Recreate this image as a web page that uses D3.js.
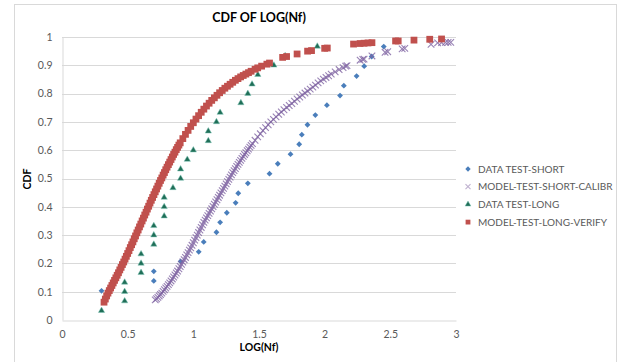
<!DOCTYPE html>
<html>
<head>
<meta charset="utf-8">
<script src="https://cdn.jsdelivr.net/npm/d3@7"></script>
<style>
  body { margin: 0; background: #fff; }
  svg { display: block; font-family: Lato, "Open Sans", sans-serif; }
</style>
</head>
<body>
<div id="chart"></div>
<script>
// tick labels
const xTicks = [0, 0.5, 1, 1.5, 2, 2.5, 3];
const yTicks = [0, 0.1, 0.2, 0.3, 0.4, 0.5, 0.6, 0.7, 0.8, 0.9, 1];

const seriesNames = ['DATA TEST-SHORT', 'MODEL-TEST-SHORT-CALIBR', 'DATA TEST-LONG', 'MODEL-TEST-LONG-VERIFY'];

// DATA TEST-SHORT
const shortX = [0.301, 0.699, 0.699, 0.903, 1.041, 1.079, 1.176, 1.204, 1.255, 1.322, 1.342, 1.415, 1.580,
  1.643, 1.740, 1.806, 1.826, 1.869, 1.929, 2.017, 2.117, 2.146, 2.243, 2.301, 2.358, 2.450];
const shortY = [0.103, 0.138, 0.172, 0.207, 0.241, 0.276, 0.310, 0.345, 0.379, 0.414, 0.448, 0.483, 0.517,
  0.552, 0.586, 0.621, 0.655, 0.690, 0.724, 0.759, 0.793, 0.828, 0.862, 0.897, 0.931, 0.966];

// MODEL-TEST-SHORT-CALIBR
const calibX = [0.71, 0.72, 0.73, 0.74, 0.75, 0.76, 0.77, 0.78, 0.79, 0.80, 0.81, 0.82, 0.83, 0.84, 0.85,
  0.86, 0.87, 0.88, 0.89, 0.90, 0.91, 0.92, 0.93, 0.94, 0.95, 0.96, 0.97, 0.98, 0.99, 1.00, 1.01, 1.02,
  1.03, 1.04, 1.05, 1.06, 1.07, 1.08, 1.09, 1.10, 1.11, 1.12, 1.13, 1.14, 1.15, 1.16, 1.17, 1.18, 1.19,
  1.20, 1.21, 1.22, 1.23, 1.24, 1.25, 1.26, 1.27, 1.28, 1.29, 1.30, 1.31, 1.32, 1.33, 1.34, 1.35, 1.36,
  1.37, 1.38, 1.39, 1.40, 1.41, 1.42, 1.43, 1.44, 1.45, 1.47, 1.49, 1.51, 1.53, 1.55, 1.57, 1.59, 1.61,
  1.63, 1.65, 1.67, 1.69, 1.71, 1.73, 1.75, 1.77, 1.79, 1.81, 1.83, 1.85, 1.87, 1.89, 1.91, 1.93, 1.95,
  1.97, 1.99, 2.01, 2.03, 2.05, 2.08, 2.11, 2.14, 2.16, 2.17, 2.27, 2.29, 2.30, 2.36, 2.46, 2.48, 2.59,
  2.61, 2.81, 2.86, 2.89, 2.92, 2.94, 2.96];
const calibY = [0.071, 0.075, 0.080, 0.085, 0.090, 0.095, 0.101, 0.107, 0.113, 0.119, 0.125, 0.131, 0.138,
  0.145, 0.152, 0.159, 0.166, 0.173, 0.181, 0.189, 0.197, 0.205, 0.213, 0.221, 0.230, 0.238, 0.247, 0.255,
  0.264, 0.273, 0.282, 0.291, 0.300, 0.309, 0.318, 0.327, 0.336, 0.345, 0.353, 0.361, 0.369, 0.377, 0.385,
  0.393, 0.401, 0.409, 0.417, 0.425, 0.433, 0.441, 0.449, 0.457, 0.465, 0.473, 0.481, 0.489, 0.497, 0.505,
  0.513, 0.521, 0.528, 0.535, 0.543, 0.550, 0.557, 0.564, 0.571, 0.578, 0.585, 0.591, 0.598, 0.604, 0.611,
  0.617, 0.623, 0.635, 0.647, 0.658, 0.669, 0.680, 0.690, 0.700, 0.709, 0.718, 0.727, 0.735, 0.743, 0.751,
  0.758, 0.765, 0.773, 0.781, 0.788, 0.795, 0.802, 0.809, 0.816, 0.823, 0.830, 0.838, 0.845, 0.851, 0.857,
  0.863, 0.869, 0.877, 0.885, 0.892, 0.897, 0.899, 0.918, 0.921, 0.922, 0.933, 0.946, 0.948, 0.958, 0.960,
  0.974, 0.979, 0.980, 0.981, 0.981, 0.981];

// DATA TEST-LONG
const longX = [0.301, 0.477, 0.477, 0.477, 0.602, 0.602, 0.602, 0.699, 0.699, 0.699, 0.778, 0.778, 0.778,
  0.845, 0.903, 0.903, 0.954, 1.000, 1.114, 1.114, 1.176, 1.204, 1.362, 1.415, 1.447, 1.491, 1.613, 1.699, 1.944];
const longY = [0.033, 0.067, 0.100, 0.133, 0.167, 0.200, 0.233, 0.267, 0.300, 0.333, 0.367, 0.400, 0.433,
  0.467, 0.500, 0.533, 0.567, 0.600, 0.633, 0.667, 0.700, 0.733, 0.767, 0.800, 0.833, 0.867, 0.900, 0.933, 0.967];

// MODEL-TEST-LONG-VERIFY
const verifyX = [0.32, 0.33, 0.34, 0.35, 0.36, 0.37, 0.38, 0.39, 0.40, 0.41, 0.42, 0.43, 0.44, 0.45, 0.46,
  0.47, 0.48, 0.49, 0.50, 0.51, 0.52, 0.53, 0.54, 0.55, 0.56, 0.57, 0.58, 0.59, 0.60, 0.61, 0.62, 0.63,
  0.64, 0.65, 0.66, 0.67, 0.68, 0.69, 0.70, 0.71, 0.72, 0.73, 0.74, 0.75, 0.76, 0.77, 0.78, 0.79, 0.80,
  0.81, 0.82, 0.83, 0.84, 0.85, 0.86, 0.87, 0.88, 0.89, 0.90, 0.92, 0.94, 0.96, 0.98, 1.00, 1.02, 1.04,
  1.06, 1.08, 1.10, 1.12, 1.14, 1.16, 1.18, 1.20, 1.22, 1.24, 1.26, 1.28, 1.30, 1.32, 1.34, 1.36, 1.38,
  1.40, 1.42, 1.44, 1.47, 1.49, 1.52, 1.56, 1.58, 1.68, 1.71, 1.79, 1.87, 1.90, 2.00, 2.02, 2.22, 2.27,
  2.30, 2.33, 2.36, 2.54, 2.56, 2.68, 2.80, 2.89];
const verifyY = [0.063, 0.074, 0.085, 0.095, 0.104, 0.113, 0.122, 0.131, 0.140, 0.149, 0.158, 0.167, 0.177,
  0.186, 0.196, 0.205, 0.215, 0.225, 0.235, 0.245, 0.256, 0.266, 0.276, 0.287, 0.297, 0.308, 0.318, 0.329,
  0.339, 0.350, 0.360, 0.371, 0.381, 0.392, 0.402, 0.413, 0.423, 0.433, 0.443, 0.453, 0.463, 0.473, 0.483,
  0.493, 0.502, 0.512, 0.521, 0.531, 0.540, 0.549, 0.558, 0.567, 0.576, 0.585, 0.593, 0.602, 0.610, 0.618,
  0.626, 0.641, 0.656, 0.670, 0.684, 0.697, 0.710, 0.722, 0.734, 0.745, 0.756, 0.766, 0.776, 0.785, 0.794,
  0.803, 0.811, 0.819, 0.826, 0.833, 0.840, 0.847, 0.853, 0.859, 0.864, 0.869, 0.874, 0.879, 0.886, 0.891,
  0.897, 0.904, 0.908, 0.928, 0.931, 0.940, 0.950, 0.952, 0.960, 0.961, 0.975, 0.977, 0.978, 0.979, 0.980,
  0.986, 0.986, 0.989, 0.992, 0.993];

const width = 619, height = 362;
const margin = { top: 37, right: 163, bottom: 42, left: 62 };

const svg = d3.select('#chart').append('svg')
  .attr('width', width)
  .attr('height', height);

// chart border
svg.append('rect')
  .attr('x', 14.5).attr('y', 4.5)
  .attr('width', 602).attr('height', 370)
  .attr('fill', 'none')
  .attr('stroke', '#d9d9d9');

const x = d3.scaleLinear().domain([0, 3]).range([margin.left, width - margin.right]);
const y = d3.scaleLinear().domain([0, 1]).range([height - margin.bottom, margin.top]);

// horizontal grid
svg.append('g')
  .selectAll('line')
  .data(yTicks.slice(1))
  .join('line')
  .attr('x1', x(0)).attr('x2', x(3))
  .attr('y1', d => Math.round(y(d)) + 0.5)
  .attr('y2', d => Math.round(y(d)) + 0.5)
  .attr('stroke', '#d9d9d9');

// axes
const xAxis = svg.append('g')
  .attr('transform', `translate(0,${Math.round(y(0)) + 0.5})`)
  .call(d3.axisBottom(x).tickValues(xTicks).tickSize(0).tickPadding(10).tickFormat(d3.format('')));
const yAxis = svg.append('g')
  .attr('transform', `translate(${Math.round(x(0)) + 0.5},0)`)
  .call(d3.axisLeft(y).tickValues(yTicks).tickSize(0).tickPadding(10).tickFormat(d3.format('')));

[xAxis, yAxis].forEach(a => {
  a.select('.domain').attr('stroke', '#d9d9d9');
  a.selectAll('text')
    .attr('fill', '#595959')
    .style('font-size', '10.5px')
    .style('font-family', 'Lato, "Open Sans", sans-serif');
});

// series
const pts = (xs, ys) => xs.map((v, i) => ({ x: v, y: ys[i] }));

const drawSeries = (data, s) => {
  svg.append('g')
    .selectAll('path')
    .data(data)
    .join('path')
    .attr('d', d3.symbol().type(s.symbol).size(s.size))
    .attr('transform', d => `translate(${x(d.x)},${y(d.y)})${s.rotate ? ' rotate(45)' : ''}`)
    .attr('fill', s.style.fill || 'none')
    .attr('stroke', s.style.stroke || 'none')
    .attr('stroke-width', s.style.sw || 0)
    .attr('opacity', s.style.opacity || 1);
};

const styles = [
  { symbol: d3.symbolSquare, size: 17, style: { fill: '#4a7ebb' }, rotate: true },
  { symbol: d3.symbolTimes, size: 30, style: { stroke: '#8064a2', sw: 1.1, opacity: 0.8 }, rotate: false },
  { symbol: d3.symbolTriangle, size: 17, style: { fill: '#1f6e57', stroke: '#7fc4b6', sw: 0.5 }, rotate: false },
  { symbol: d3.symbolSquare, size: 46, style: { fill: '#c0504d' }, rotate: false }
];

drawSeries(pts(shortX, shortY), styles[0]);
drawSeries(pts(calibX, calibY), styles[1]);
drawSeries(pts(longX, longY), styles[2]);
drawSeries(pts(verifyX, verifyY), styles[3]);

// titles
svg.append('text')
  .attr('x', 259).attr('y', 22)
  .attr('text-anchor', 'middle')
  .style('font-size', '12.5px').style('font-weight', 'bold')
  .attr('fill', '#000')
  .text('CDF OF LOG(Nf)');

svg.append('text')
  .attr('x', 259).attr('y', 351)
  .attr('text-anchor', 'middle')
  .style('font-size', '10.5px').style('font-weight', 'bold')
  .attr('fill', '#000')
  .text('LOG(Nf)');

svg.append('text')
  .attr('transform', 'translate(31,179) rotate(-90)')
  .attr('text-anchor', 'middle')
  .style('font-size', '10.5px').style('font-weight', 'bold')
  .attr('fill', '#000')
  .text('CDF');

// legend
const legend = svg.append('g').attr('transform', 'translate(468,169)');
seriesNames.forEach((name, i) => {
  const g = legend.append('g').attr('transform', `translate(0,${i * 17.7})`);
  const s = styles[i];
  const scale = i === 3 ? 0.5 : (i === 1 ? 0.6 : 0.85);
  g.append('path')
    .attr('d', d3.symbol().type(s.symbol).size(s.size * scale))
    .attr('transform', s.rotate ? 'rotate(45)' : null)
    .attr('fill', s.style.fill || 'none')
    .attr('stroke', s.style.stroke || 'none')
    .attr('stroke-width', s.style.sw || 0)
    .attr('opacity', i === 1 ? 0.5 : 1);
  g.append('text')
    .attr('x', 10).attr('y', 0).attr('dy', '0.35em')
    .style('font-size', '10px')
    .attr('fill', '#595959')
    .text(name);
});
</script>
</body>
</html>
